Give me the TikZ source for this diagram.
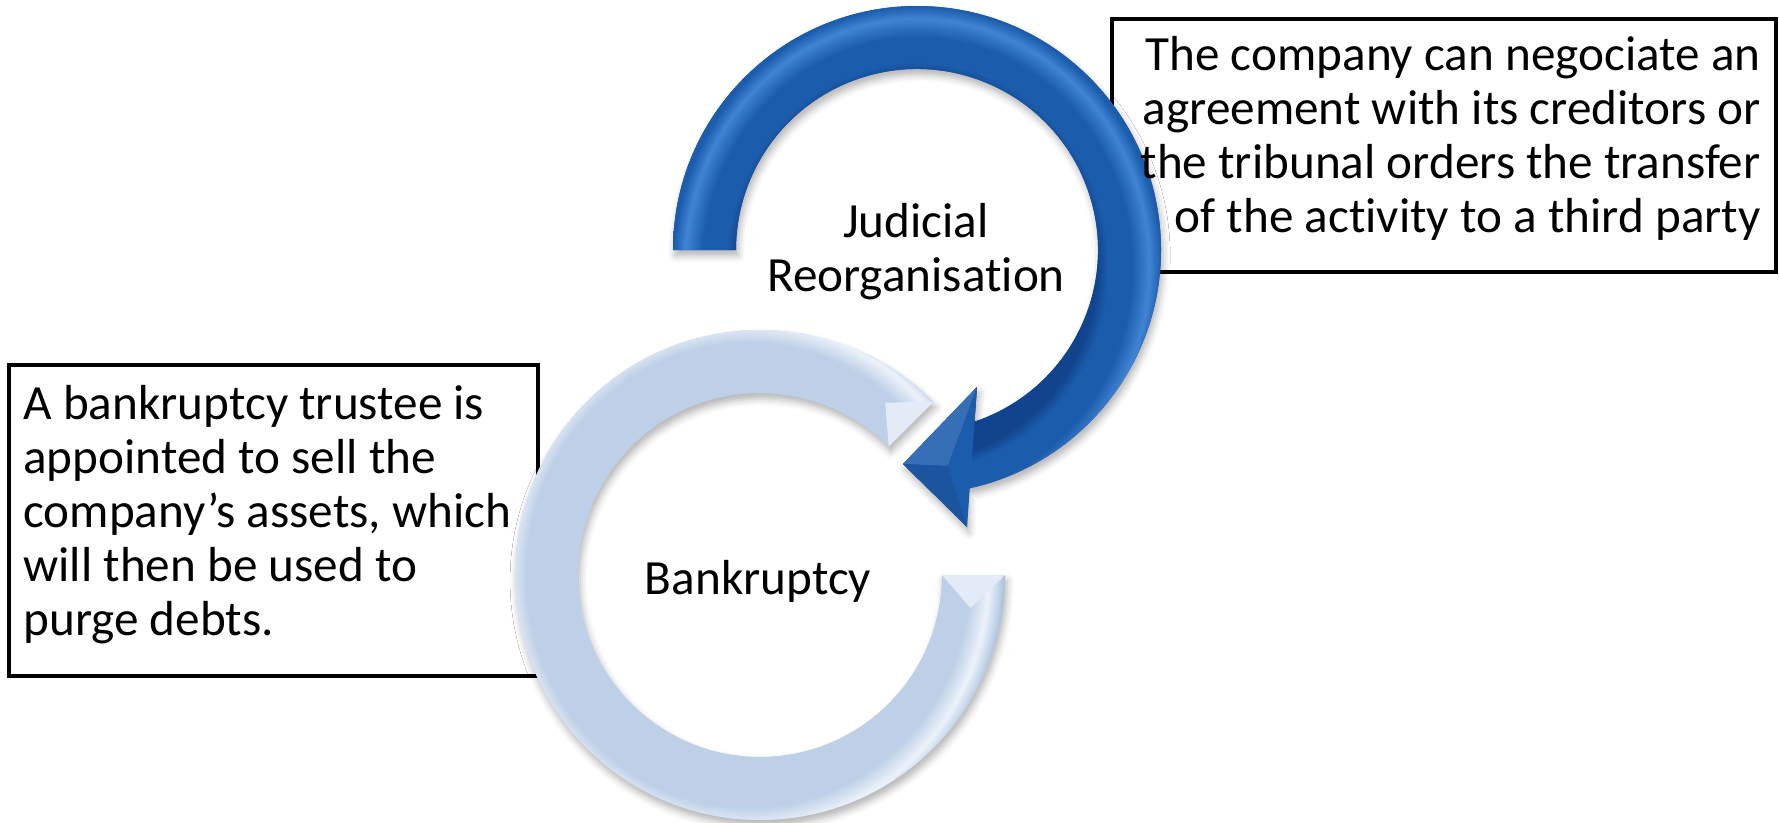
\documentclass[tikz,border=0pt]{standalone}
\usepackage{fontspec}
\setmainfont{Carlito}[Ligatures=NoCommon]
\definecolor{ringblue}{RGB}{28, 92, 172}
\definecolor{ringbluedark}{RGB}{17, 68, 140}
\definecolor{ringbluelight}{RGB}{64, 132, 212}
\definecolor{ringpale}{RGB}{190, 208, 231}
\definecolor{ringpalelight}{RGB}{236, 242, 250}
\definecolor{ringpaledark}{RGB}{172, 190, 214}
\usetikzlibrary{calc, shadows.blur}
\pgfdeclareradialshading{judshade}{\pgfpointorigin}{
    color(0bp)=(ringbluedark); color(18.4bp)=(ringbluedark);
    color(19.6bp)=(ringblue); color(22bp)=(ringblue);
    color(23.8bp)=(ringbluelight); color(25bp)=(ringblue); color(50bp)=(ringblue)}
\pgfdeclareradialshading{bankshade}{\pgfpointorigin}{
    color(0bp)=(ringpale); color(21.6bp)=(ringpale);
    color(23.4bp)=(ringpalelight); color(24.5bp)=(ringpale);
    color(25bp)=(ringpaledark); color(50bp)=(ringpaledark)}
\newcommand{\judring}{($(judcentre)+(180:2.44)$)
    arc[start angle=180, end angle=-78, radius=2.44] -- (headlow) -- (headtip)
    -- (headtop) -- ($(judcentre)+(-71.5:1.81)$)
    arc[start angle=-71.5, end angle=180, radius=1.81] -- cycle}
\newcommand{\bankring}{($(bankcentre)+(45:2.45)$)
    arc[start angle=45, end angle=360, radius=2.45] -- ($(bankcentre)+(0:1.82)$)
    arc[start angle=360, end angle=45, radius=1.82] -- cycle}
\tikzset{
    notebox/.style={draw, line width=1.3pt, fill=white},
    notetext/.style={inner sep=0pt, font=\fontsize{14}{15.4}\selectfont},
    ringlabel/.style={align=center, font=\fontsize{14}{15.4}\selectfont},
    ringshadow/.style={blur shadow={shadow xshift=.6pt, shadow yshift=-1.6pt,
        shadow blur radius=2pt, shadow opacity=30}},
}

\begin{document}
\begin{tikzpicture}
    \useasboundingbox (0, 0) rectangle (17.79, 8.22);
    \coordinate (judcentre) at (9.17, 5.72);
    \coordinate (bankcentre) at (7.60, 2.47);
    \coordinate (headtip) at (9.03, 3.58);
    \coordinate (headtop) at (9.77, 4.35);
    \coordinate (headlow) at (9.67, 2.95);
    \coordinate (headmid) at (9.48, 3.56);

    \node[notebox, minimum width=6.64cm, minimum height=2.53cm] (reorgbox)
        at (14.44, 6.765) {};
    \node[notebox, minimum width=5.29cm, minimum height=3.11cm] (bankbox)
        at (2.735, 3.015) {};

    \fill[ringpale, ringshadow, path picture={
        \shade[shading=bankshade] (bankcentre) circle (2.45);}] \bankring;
    \fill[ringpalelight!80!ringpale] ($(bankcentre)+(0:1.82)$)
        -- ($(bankcentre)+(0:2.45)$) -- ($(bankcentre)+(-8.9:2.13)$) -- cycle;
    \fill[ringpalelight!80!ringpale] ($(bankcentre)+(45:2.45)$)
        -- ($(bankcentre)+(45:1.82)$) -- ($(bankcentre)+(54:2.13)$) -- cycle;

    \fill[ringblue, ringshadow, path picture={
        \shade[shading=judshade] (judcentre) circle (2.44);}] \judring;
    \fill[ringblue!88!white] (headtip) -- (headtop) -- (headmid) -- cycle;
    \fill[ringblue!92!black] (headtip) -- (headmid) -- (headlow) -- cycle;
    \fill[ringblue] (headtop) -- (headmid) -- (headlow) -- cycle;

    \node[ringlabel] (judlabel) at (9.16, 5.705) {Judicial\\Reorganisation};
    \node[ringlabel] (banklabel) at (7.58, 2.41) {Bankruptcy};
    \node[notetext, align=right, anchor=east] (reorgnote)
        at ($(reorgbox.east)+(-.17, .07)$) {The company can negociate an\\
        agreement with its creditors or\\the tribunal orders the transfer\\
        of the activity to a third party};
    \node[notetext, align=left, anchor=west] (banknote)
        at ($(bankbox.west)+(.16, .06)$) {A bankruptcy trustee is\\
        appointed to sell the\\company’s assets, which\\
        will then be used to\\purge debts.};
\end{tikzpicture}
\end{document}
